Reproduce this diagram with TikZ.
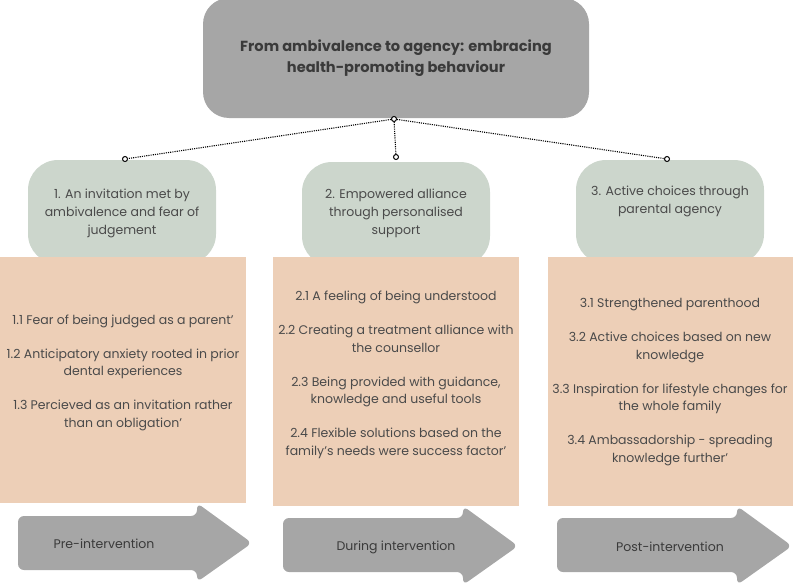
\documentclass[tikz,border=0pt]{standalone}
\usepackage{fontspec}
\setmainfont{Poppins}
\definecolor{boxgray}{HTML}{A6A6A6}
\definecolor{sage}{HTML}{CCD6CC}
\definecolor{peach}{HTML}{EDCFB7}
\definecolor{txtdark}{HTML}{3A3A3A}
\definecolor{txtmid}{HTML}{4A4A4A}
\begin{document}
\begin{tikzpicture}[x=1pt,y=-1pt,
  titlebox/.style={fill=boxgray, rounded corners=26pt, inner sep=0pt, text=txtdark, align=center, font=\fontsize{14.6}{20.5}\selectfont\bfseries},
  greenbox/.style={fill=sage, rounded corners=30pt, inner sep=0pt, minimum width=188pt, minimum height=104pt},
  peachbox/.style={fill=peach, inner sep=0pt},
  greentxt/.style={text=txtmid, align=center, inner sep=0pt, font=\fontsize{12.5}{18}\selectfont},
  peachtxt/.style={text=txtmid, align=center, inner sep=0pt, anchor=base, font=\fontsize{12.5}{17.5}\selectfont},
  phasearrow/.style={fill=boxgray, rounded corners=6pt},
  arrowtxt/.style={text=txtdark, inner sep=0pt, font=\fontsize{12.5}{14}\selectfont},
  hubdot/.style={circle, draw=black, fill=white, line width=1pt, inner sep=0pt, minimum size=5pt},
  dotline/.style={line width=1.1pt, dash pattern=on 1.1pt off 1.1pt}
]
\useasboundingbox (0,0) rectangle (794,586);

% title
\node[titlebox, minimum width=386pt, minimum height=120pt] (title) at (396,58)
  {From ambivalence to agency: embracing\\health-promoting behaviour};

% theme boxes
\node[greenbox] (g1) at (122,212) {};
\node[greenbox] (g2) at (396,214) {};
\node[greenbox] (g3) at (670,212) {};

\node[greentxt] (gt1) at (122,213) {1. An invitation met by\\ambivalence and fear of\\judgement};
\node[greentxt] (gt2) at (396,213) {2. Empowered alliance\\through personalised\\support};
\node[greentxt] (gt3) at (670,201) {3. Active choices through\\parental agency};

% connectors
\node[hubdot] (hub) at (394,119) {};
\node[hubdot] (c1) at (125,159) {};
\node[hubdot] (c2) at (396,157) {};
\node[hubdot] (c3) at (667,159) {};
\draw[dotline] (hub) -- (c1);
\draw[dotline] (hub) -- (c2);
\draw[dotline] (hub) -- (c3);

% subtheme boxes
\node[peachbox, minimum width=246pt, minimum height=246pt] (p1) at (123,380) {};
\node[peachbox, minimum width=246pt, minimum height=249pt] (p2) at (396,381.5) {};
\node[peachbox, minimum width=245pt, minimum height=249pt] (p3) at (670.5,381.5) {};

\node[peachtxt] (pt1) at (123,427) {1.1 Fear of being judged as a parent'\\[16.5pt]
1.2 Anticipatory anxiety rooted in prior\\dental experiences\\[16.5pt]
1.3 Percieved as an invitation rather\\than an obligation'};
\node[peachtxt] (pt2) at (396,455) {2.1 A feeling of being understood\\[16.5pt]
2.2 Creating a treatment alliance with\\the counsellor\\[16.5pt]
2.3 Being provided with guidance,\\knowledge and useful tools\\[16.5pt]
2.4 Flexible solutions based on the\\family’s needs were success factor'};
\node[peachtxt] (pt3) at (670,462) {3.1 Strengthened parenthood\\[16.5pt]
3.2 Active choices based on new\\knowledge\\[16.5pt]
3.3 Inspiration for lifestyle changes for\\the whole family\\[16.5pt]
3.4 Ambassadorship - spreading\\knowledge further'};

% phase arrows
\path[phasearrow] (18,516) -- (197,516) -- (197,503) -- (252,543) -- (197,582) -- (197,570) -- (18,570) -- cycle;
\path[phasearrow] (283,518) -- (463,518) -- (463,506) -- (518,546) -- (463,585) -- (463,572) -- (283,572) -- cycle;
\path[phasearrow] (557,518) -- (737,518) -- (737,506) -- (792,546) -- (737,585) -- (737,572) -- (557,572) -- cycle;
\node[arrowtxt] (a1) at (104,544) {Pre-intervention};
\node[arrowtxt] (a2) at (396,547) {During intervention};
\node[arrowtxt] (a3) at (670,547) {Post-intervention};
\end{tikzpicture}
\end{document}
